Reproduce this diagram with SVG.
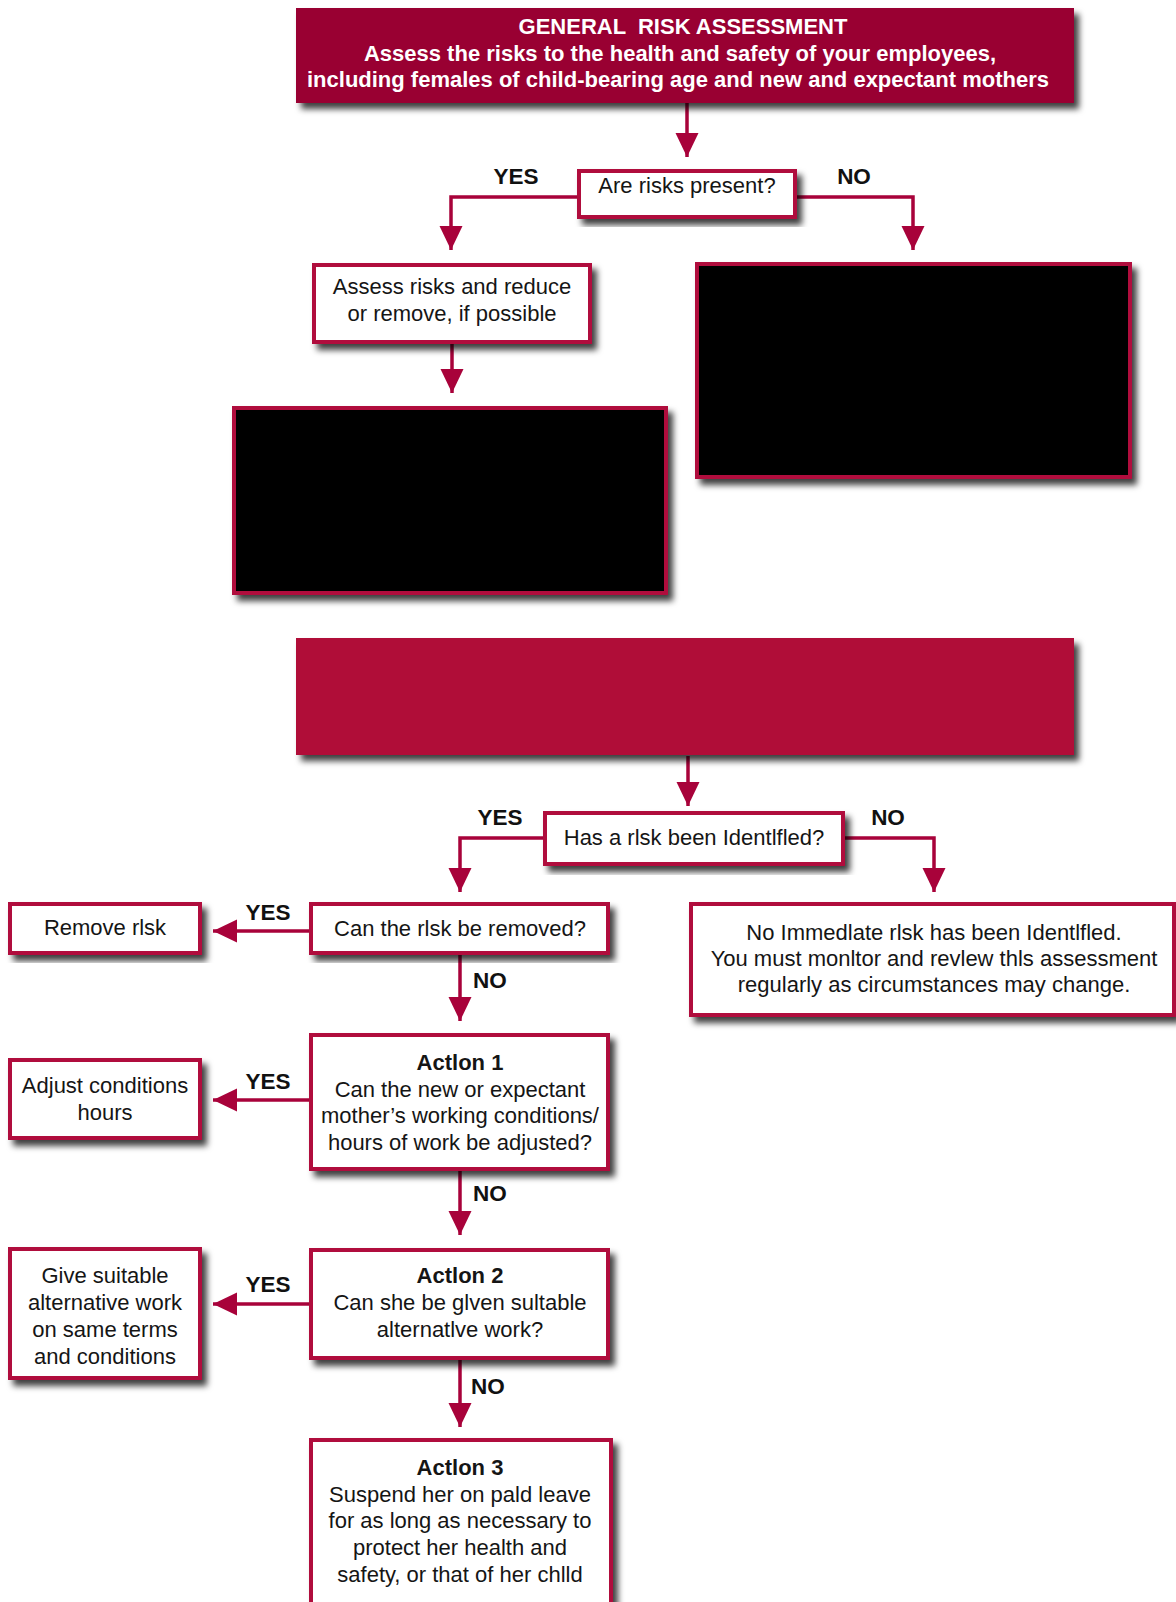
<svg xmlns="http://www.w3.org/2000/svg" width="1176" height="1602" viewBox="0 0 1176 1602">
<defs>
<filter id="sh" x="-10%" y="-10%" width="125%" height="130%">
<feDropShadow dx="5" dy="6" stdDeviation="3" flood-color="#000" flood-opacity="0.75"/>
</filter>
<marker id="ah" markerUnits="userSpaceOnUse" markerWidth="26" markerHeight="24" refX="24" refY="11.5" orient="auto">
<path d="M0,0 L24,11.5 L0,23 Z" fill="#A8023A"/>
</marker>
<style>
.box{fill:#fff;stroke:#B0103C;stroke-width:4;filter:url(#sh)}
.blk{fill:#000;stroke:#B0103C;stroke-width:4;filter:url(#sh)}
.con{fill:none;stroke:#A8023A;stroke-width:3.5;marker-end:url(#ah)}
.t{font-family:"Liberation Sans",Arial,sans-serif;font-size:22px;fill:#151515;text-anchor:middle}
.tb{font-family:"Liberation Sans",Arial,sans-serif;font-size:22px;font-weight:bold;fill:#151515;text-anchor:middle}
.lab{font-family:"Liberation Sans",Arial,sans-serif;font-size:22.5px;font-weight:bold;fill:#111}
.ti{font-family:"Liberation Sans",Arial,sans-serif;font-size:22px;font-weight:bold;fill:#fff;text-anchor:middle}
</style>
</defs>
<rect width="1176" height="1602" fill="#fff"/>

<g id="connectors">
<path class="con" d="M687,103 V157"/>
<path class="con" d="M579,197 H451 V250"/>
<path class="con" d="M795,197 H913 V250"/>
<path class="con" d="M452,342 V393"/>
<path class="con" d="M688,756 V806"/>
<path class="con" d="M545,838 H460 V892"/>
<path class="con" d="M843,838 H934 V892"/>
<path class="con" d="M311,931 H213"/>
<path class="con" d="M460,953 V1021"/>
<path class="con" d="M311,1100 H213"/>
<path class="con" d="M460,1169 V1235"/>
<path class="con" d="M311,1304 H213"/>
<path class="con" d="M460,1358 V1427"/>
<text class="lab" x="516" y="184" text-anchor="middle">YES</text>
<text class="lab" x="854" y="184" text-anchor="middle">NO</text>
<text class="lab" x="500" y="825" text-anchor="middle">YES</text>
<text class="lab" x="888" y="825" text-anchor="middle">NO</text>
<text class="lab" x="268" y="920" text-anchor="middle">YES</text>
<text class="lab" x="473" y="988">NO</text>
<text class="lab" x="268" y="1089" text-anchor="middle">YES</text>
<text class="lab" x="473" y="1201">NO</text>
<text class="lab" x="268" y="1292" text-anchor="middle">YES</text>
<text class="lab" x="471" y="1394">NO</text>
</g>

<g id="title">
<rect x="296" y="8" width="778" height="95" fill="#990033" filter="url(#sh)"/>
<text class="ti" x="683" y="34" xml:space="preserve">GENERAL  RISK ASSESSMENT</text>
<text class="ti" x="680" y="61">Assess the risks to the health and safety of your employees,</text>
<text class="ti" x="678" y="87">including females of child-bearing age and new and expectant mothers</text>
</g>

<g id="q-risks-present">
<rect class="box" x="579" y="171" width="216" height="46"/>
<text class="t" x="687" y="193">Are risks present?</text>
</g>

<g id="assess-reduce">
<rect class="box" x="314" y="265" width="276" height="77"/>
<text class="t" x="452" y="294">Assess risks and reduce</text>
<text class="t" x="452" y="321">or remove, if possible</text>
</g>

<g id="hidden-left">
<rect class="blk" x="234" y="408" width="432" height="185"/>
</g>

<g id="hidden-right">
<rect class="blk" x="697" y="264" width="433" height="213"/>
</g>

<g id="red-banner">
<rect x="296" y="638" width="778" height="117" fill="#B00A38" filter="url(#sh)"/>
</g>

<g id="q-risk-identified">
<rect class="box" x="545" y="813" width="298" height="51"/>
<text class="t" x="694" y="845">Has a rlsk been Identlfled?</text>
</g>

<g id="no-immediate-risk">
<rect class="box" x="691" y="904" width="483" height="111"/>
<text class="t" x="934" y="940">No Immedlate rlsk has been Identlfled.</text>
<text class="t" x="934" y="966">You must monltor and revlew thls assessment</text>
<text class="t" x="934" y="992">regularly as circumstances may change.</text>
</g>

<g id="q-can-remove">
<rect class="box" x="311" y="904" width="297" height="49"/>
<text class="t" x="460" y="936">Can the rlsk be removed?</text>
</g>

<g id="remove-risk">
<rect class="box" x="10" y="904" width="190" height="49"/>
<text class="t" x="105" y="935">Remove rlsk</text>
</g>

<g id="action1">
<rect class="box" x="311" y="1035" width="297" height="134"/>
<text class="tb" x="460" y="1070">Actlon 1</text>
<text class="t" x="460" y="1097">Can the new or expectant</text>
<text class="t" x="460" y="1123">mother’s working conditions/</text>
<text class="t" x="460" y="1150">hours of work be adjusted?</text>
</g>

<g id="adjust-conditions">
<rect class="box" x="10" y="1060" width="190" height="78"/>
<text class="t" x="105" y="1093">Adjust conditions</text>
<text class="t" x="105" y="1120">hours</text>
</g>

<g id="action2">
<rect class="box" x="311" y="1250" width="297" height="108"/>
<text class="tb" x="460" y="1283">Actlon 2</text>
<text class="t" x="460" y="1310">Can she be glven sultable</text>
<text class="t" x="460" y="1337">alternatlve work?</text>
</g>

<g id="give-alternative">
<rect class="box" x="10" y="1249" width="190" height="129"/>
<text class="t" x="105" y="1283">Give suitable</text>
<text class="t" x="105" y="1310">alternative work</text>
<text class="t" x="105" y="1337">on same terms</text>
<text class="t" x="105" y="1364">and conditions</text>
</g>

<g id="action3">
<rect class="box" x="311" y="1440" width="300" height="170"/>
<text class="tb" x="460" y="1475">Actlon 3</text>
<text class="t" x="460" y="1502">Suspend her on pald leave</text>
<text class="t" x="460" y="1528">for as long as necessary to</text>
<text class="t" x="460" y="1555">protect her health and</text>
<text class="t" x="460" y="1582">safety, or that of her chlld</text>
</g>
</svg>
